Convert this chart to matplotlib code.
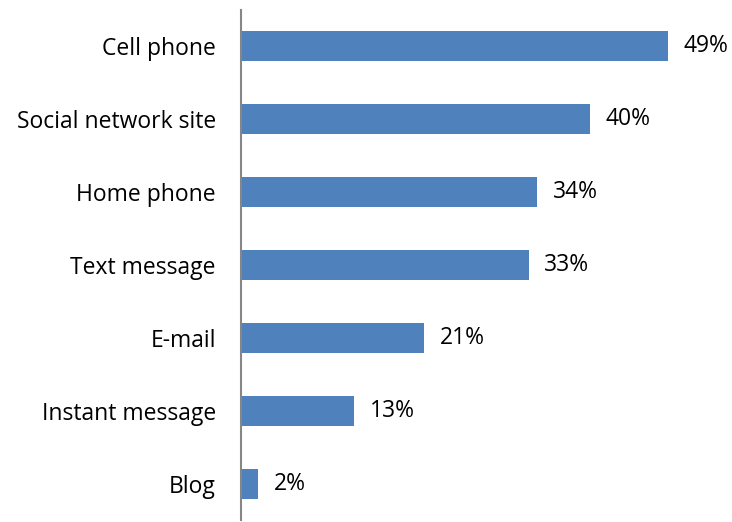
import matplotlib.pyplot as plt

categories = ['Cell phone', 'Social network site', 'Home phone', 'Text message',
              'E-mail', 'Instant message', 'Blog']
values = [49, 40, 34, 33, 21, 13, 2]

plt.rcParams['font.family'] = ['Open Sans', 'DejaVu Sans']

fig = plt.figure(figsize=(7.32, 5.22), dpi=100)
ax = fig.add_axes([241 / 732, 2 / 522, 488 / 732, 510 / 522])

pos = list(range(len(categories)))[::-1]
ax.barh(pos, values, height=0.41, color='#4F81BD', zorder=2)

for y, v in zip(pos, values):
    ax.text(v + 1.8, y, f'{v}%', va='center', ha='left', fontsize=16.5, color='black')

ax.set_xlim(0, 56)
ax.set_ylim(-0.5, 6.5)
ax.set_yticks(pos)
ax.set_yticklabels(categories, fontsize=16.5)
ax.tick_params(axis='y', length=0, pad=18)
ax.set_xticks([])

for side in ['top', 'right', 'bottom']:
    ax.spines[side].set_visible(False)
ax.spines['left'].set_color('#868686')
ax.spines['left'].set_linewidth(1.5)

fig.savefig('out.png', dpi=100)
